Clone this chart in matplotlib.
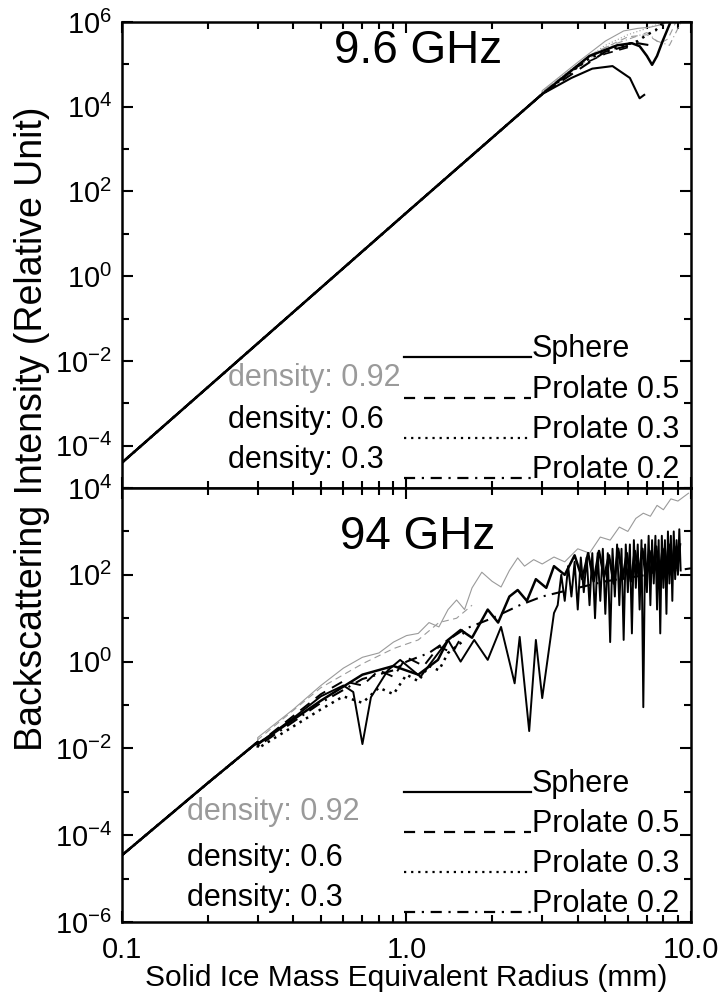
import numpy as np
import matplotlib
matplotlib.use("Agg")
import matplotlib.pyplot as plt
from matplotlib.ticker import FixedLocator, NullFormatter, FixedFormatter

plt.rcParams['font.family'] = ['Liberation Sans', 'DejaVu Sans']
plt.rcParams['mathtext.fontset'] = 'custom'
plt.rcParams['mathtext.rm'] = 'Liberation Sans'
plt.rcParams['mathtext.it'] = 'Liberation Sans'
plt.rcParams['mathtext.bf'] = 'Liberation Sans'

###############################################################################
# data (radius in mm, log10 of backscattering intensity)
shapes = ["Sphere", "Prolate 0.5", "Prolate 0.3", "Prolate 0.2"]
densities = ["density: 0.92", "density: 0.6", "density: 0.3"]

# 9.6 GHz, Rayleigh part shared by all curves
top_r_ray = [0.1, 1.0, 3.0]
top_i_ray = [-4.40, 1.50, 4.30]

# 9.6 GHz tails
top_r_g92_sph = [3.0, 4.0, 5.0, 5.8, 6.5, 7.2, 8.0, 8.6]
top_i_g92_sph = [4.38, 5.05, 5.55, 5.79, 5.85, 5.88, 5.95, 6.10]
top_r_g92_dot = [3.0, 4.0, 5.0, 6.0, 7.0, 8.0, 8.5]
top_i_g92_dot = [4.35, 5.00, 5.45, 5.70, 5.85, 6.00, 6.10]
top_r_g92_dash = [3.0, 4.5, 6.0, 7.0, 7.8, 8.3, 9.0]
top_i_g92_dash = [4.35, 5.25, 5.65, 5.70, 5.50, 5.60, 6.10]
top_r_g92_dd = [3.0, 5.0, 7.0, 7.6, 8.4, 9.4]
top_i_g92_dd = [4.35, 5.40, 5.75, 5.55, 5.45, 6.10]

top_r_b06_sph = [3.0, 4.4, 5.5, 6.2, 6.6, 7.0, 7.3, 7.6, 7.95, 8.6]
top_i_b06_sph = [4.30, 5.20, 5.45, 5.50, 5.43, 5.20, 4.99, 5.20, 5.55, 6.10]
top_r_b06_dot = [3.0, 4.4, 5.5, 6.5, 7.0, 7.5, 8.0]
top_i_b06_dot = [4.30, 5.15, 5.40, 5.55, 5.70, 5.80, 6.00]
top_r_b06_dash = [3.0, 5.0, 6.5, 7.2]
top_i_b06_dash = [4.30, 5.30, 5.50, 5.45]

top_r_b03_sph = [3.0, 3.8, 4.5, 5.3, 6.1, 6.6, 6.85]
top_i_b03_sph = [4.30, 4.68, 4.90, 4.96, 4.68, 4.20, 4.28]
top_r_b03_dash = [3.0, 4.0, 5.0, 6.0]
top_i_b03_dash = [4.28, 4.95, 5.25, 5.40]

# 94 GHz, Rayleigh part shared by all curves
bot_r_ray = [0.1, 0.2, 0.3]
bot_i_ray = [-4.46, -2.80, -1.85]

bot_r_g92_sph = [0.3, 0.4, 0.5, 0.6, 0.7, 0.8, 0.9, 1.0, 1.1, 1.2, 1.3, 1.4,
                 1.5, 1.6, 1.7, 1.84, 2.0, 2.15, 2.3, 2.46, 2.6, 2.8, 3.0,
                 3.3, 3.6, 4.0, 4.4, 4.8, 5.2, 5.6, 6.0, 6.4, 6.8, 7.2, 7.6,
                 8.0, 8.5, 9.0, 9.8]
bot_i_g92_sph = [-1.75, -1.10, -0.55, -0.15, 0.10, 0.20, 0.45, 0.60, 0.65,
                 0.90, 0.80, 1.20, 1.42, 1.20, 1.70, 2.06, 1.85, 1.72, 2.10,
                 2.39, 2.20, 2.35, 2.25, 2.41, 2.30, 2.60, 2.50, 2.87, 2.80,
                 3.10, 3.00, 3.30, 3.42, 3.35, 3.60, 3.50, 3.75, 3.70, 3.88]
bot_r_g92_dash = [0.3, 0.5, 0.7, 0.9, 1.1, 1.3, 1.5, 1.7]
bot_i_g92_dash = [-1.80, -0.60, -0.05, 0.30, 0.50, 0.90, 1.00, 1.30]

# deep-dipping solid curve
bot_r_b06_sph = [0.3, 0.4, 0.5, 0.6, 0.65, 0.7, 0.75, 0.86, 0.95, 1.12, 1.4,
                 1.55, 1.73, 1.93, 2.15, 2.4, 2.5, 2.7, 2.85, 3.0, 3.3,
                 3.4, 3.5, 3.6, 3.7, 3.8, 3.9, 4.0, 4.1, 4.2, 4.3, 4.4, 4.5,
                 4.6, 4.7, 4.8, 4.9, 5.0, 5.1, 5.2, 5.3, 5.4, 5.5, 5.6, 5.7,
                 5.8, 5.9, 6.0, 6.1, 6.2, 6.3, 6.4, 6.5, 6.6, 6.7, 6.8, 6.9,
                 7.0, 7.1, 7.2, 7.3, 7.4, 7.5, 7.6, 7.7, 7.8, 7.9, 8.0, 8.1,
                 8.2, 8.3, 8.4, 8.5, 8.6, 8.7, 8.8, 8.9, 9.0, 9.1, 9.2]
bot_i_b06_sph = [-1.90, -1.30, -0.80, -0.55, -0.70, -1.90, -0.82, -0.20,
                 0.04, -0.35, 0.50, 0.00, 0.50, 0.04, 0.80, -0.50, 0.57,
                 -1.60, 0.50, -0.84, 1.12,
                 1.30, 2.00, 1.40, 2.20, 1.50, 2.30, 1.20, 2.40, 1.60, 2.40,
                 1.30, 2.50, 1.00, 2.50, 1.40, 2.60, 1.10, 2.50, 0.45, 2.60,
                 1.50, 2.70, 1.30, 2.60, 0.50, 2.70, 1.60, 2.70, 0.65, 2.80,
                 1.70, 2.70, 1.20, 2.80, -1.05, 2.70, 1.60, 2.90, 1.30, 2.80,
                 1.80, 2.90, 1.20, 2.80, 0.65, 2.90, 1.70, 2.80, 1.10, 3.00,
                 1.80, 2.90, 1.40, 3.00, 1.90, 2.80, 2.00, 3.05, 2.10]

# wavy solid curve
bot_r_b03_sph = [0.3, 0.5, 0.7, 0.9, 1.1, 1.29, 1.4, 1.55, 1.7, 1.93, 2.1,
                 2.3, 2.46, 2.65, 2.85, 3.1, 3.3, 3.6, 3.9, 4.15, 4.35, 4.55,
                 4.75, 4.95, 5.15, 5.35, 5.55, 5.75, 5.95, 6.15, 6.35, 6.55,
                 6.75, 6.95, 7.15, 7.35, 7.55, 7.75, 7.95, 8.15, 8.35, 8.55,
                 8.75, 8.95, 9.15]
bot_i_b03_sph = [-1.90, -0.90, -0.30, -0.10, -0.30, 0.04, 0.50, 0.73, 0.55,
                 1.20, 0.90, 1.50, 1.65, 1.40, 1.90, 1.70, 2.20, 2.00, 2.45,
                 1.90, 2.50, 1.85, 2.55, 1.95, 2.45, 1.80, 2.60, 1.90, 2.50,
                 1.85, 2.55, 2.00, 2.60, 1.90, 2.55, 2.05, 2.65, 1.95, 2.60,
                 2.10, 2.70, 2.00, 2.65, 2.15, 2.70]

bot_r_b_dd = [0.3, 0.5, 0.7, 0.9, 1.0, 1.2, 1.4, 1.6, 2.0, 2.5, 3.0, 4.0, 5.0,
              7.0, 10.0]
bot_i_b_dd = [-1.95, -0.95, -0.40, -0.20, 0.00, 0.20, 0.50, 0.75, 1.00, 1.30,
              1.50, 1.70, 1.85, 2.00, 2.15]

bot_r_b_dot = [0.3, 0.5, 0.6, 0.7, 0.8, 0.9, 1.0, 1.1, 1.2, 1.3, 1.4, 1.6]
bot_i_b_dot = [-2.00, -1.10, -0.80, -0.95, -0.60, -0.75, -0.30, -0.45, -0.10,
               -0.20, 0.20, 0.50]

bot_r_b_dash = [0.3, 0.5, 0.6, 0.7, 0.8, 0.9, 1.0, 1.15, 1.3, 1.45, 1.6]
bot_i_b_dash = [-1.90, -0.75, -0.45, -0.55, -0.20, -0.35, 0.10, -0.10, 0.35,
                0.20, 0.70]

x_major = [0.1, 1.0, 10.0]
x_major_labels = ["0.1", "1.0", "10.0"]
x_minor = [0.2, 0.3, 0.4, 0.5, 0.6, 0.7, 0.8, 0.9,
           2.0, 3.0, 4.0, 5.0, 6.0, 7.0, 8.0, 9.0]

###############################################################################
# plotting
gray = '#9a9a9a'
styles = {'sph': '-', 'dash': (0, (6, 4)), 'dot': (0, (1, 2)),
          'dd': (0, (6, 3, 1, 3))}

fig = plt.figure(figsize=(7.22, 9.97), dpi=100)
ax_top = fig.add_axes([0.169, 0.5105, 0.788, 0.4674])
ax_bot = fig.add_axes([0.169, 0.0752, 0.788, 0.4353])


def draw(ax, r_ray, i_ray, r, i, ls, color, lw):
    rr = list(r_ray) + list(r)
    ii = list(i_ray) + list(i)
    ax.plot(rr, np.power(10.0, ii), linestyle=ls, color=color, lw=lw)


# top panel
draw(ax_top, top_r_ray, top_i_ray, top_r_g92_sph, top_i_g92_sph,
     styles['sph'], gray, 0.8)
draw(ax_top, top_r_ray, top_i_ray, top_r_g92_dot, top_i_g92_dot,
     styles['dot'], gray, 0.8)
draw(ax_top, top_r_ray, top_i_ray, top_r_g92_dash, top_i_g92_dash,
     styles['dash'], gray, 0.8)
draw(ax_top, top_r_ray, top_i_ray, top_r_g92_dd, top_i_g92_dd,
     styles['dd'], gray, 0.8)
draw(ax_top, top_r_ray, top_i_ray, top_r_b06_sph, top_i_b06_sph,
     styles['sph'], 'black', 1.8)
draw(ax_top, top_r_ray, top_i_ray, top_r_b06_dot, top_i_b06_dot,
     styles['dot'], 'black', 1.8)
draw(ax_top, top_r_ray, top_i_ray, top_r_b06_dash, top_i_b06_dash,
     styles['dash'], 'black', 1.5)
draw(ax_top, top_r_ray, top_i_ray, top_r_b03_sph, top_i_b03_sph,
     styles['sph'], 'black', 1.5)
draw(ax_top, top_r_ray, top_i_ray, top_r_b03_dash, top_i_b03_dash,
     styles['dash'], 'black', 1.2)

# bottom panel
draw(ax_bot, bot_r_ray, bot_i_ray, bot_r_g92_sph, bot_i_g92_sph,
     styles['sph'], gray, 0.8)
draw(ax_bot, bot_r_ray, bot_i_ray, bot_r_g92_dash, bot_i_g92_dash,
     styles['dash'], gray, 0.8)
draw(ax_bot, bot_r_ray, bot_i_ray, bot_r_b06_sph, bot_i_b06_sph,
     styles['sph'], 'black', 1.4)
draw(ax_bot, bot_r_ray, bot_i_ray, bot_r_b03_sph, bot_i_b03_sph,
     styles['sph'], 'black', 1.8)
draw(ax_bot, bot_r_ray, bot_i_ray, bot_r_b_dd, bot_i_b_dd,
     styles['dd'], 'black', 1.5)
draw(ax_bot, bot_r_ray, bot_i_ray, bot_r_b_dot, bot_i_b_dot,
     styles['dot'], 'black', 1.8)
draw(ax_bot, bot_r_ray, bot_i_ray, bot_r_b_dash, bot_i_b_dash,
     styles['dash'], 'black', 1.4)

panels = [(ax_top, -5, 6, "9.6 GHz", 0.985, range(-4, 7, 2)),
          (ax_bot, -6, 4, "94 GHz", 0.937, range(-6, 5, 2))]
for ax, lo, hi, title, ty, labelled in panels:
    ax.set_xscale('log')
    ax.set_yscale('log')
    ax.set_xlim(0.1, 10.0)
    ax.set_ylim(10.0 ** lo, 10.0 ** hi)
    major = [10.0 ** k for k in labelled]
    minor = [10.0 ** k for k in range(lo, hi + 1) if k not in labelled]
    ax.yaxis.set_major_locator(FixedLocator(major))
    ax.yaxis.set_major_formatter(FixedFormatter(
        ["10$^{%d}$" % k for k in labelled]))
    ax.yaxis.set_minor_locator(FixedLocator(minor))
    ax.yaxis.set_minor_formatter(NullFormatter())
    ax.xaxis.set_major_locator(FixedLocator(x_major))
    ax.xaxis.set_minor_locator(FixedLocator(x_minor))
    ax.xaxis.set_minor_formatter(NullFormatter())
    ax.tick_params(which='both', direction='in', top=True, right=True,
                   width=1.5, labelsize=21, pad=7)
    ax.tick_params(which='major', length=8)
    ax.tick_params(which='minor', length=5)
    for sp in ax.spines.values():
        sp.set_linewidth(1.8)
    ax.text(0.52, ty, title, transform=ax.transAxes, fontsize=33,
            ha='center', va='top')

ax_top.xaxis.set_major_formatter(NullFormatter())
ax_bot.xaxis.set_major_formatter(FixedFormatter(x_major_labels))
ax_bot.tick_params(axis='x', pad=10)

# legends drawn as text, the same for both panels
leg_rows = {ax_top: [0.282, 0.194, 0.108, 0.022],
            ax_bot: [0.300, 0.207, 0.115, 0.023]}
leg_styles = [styles['sph'], (0, (5, 4)), (0, (1, 2.2)), (0, (5, 3, 1, 3))]
dens_rows = {ax_top: (0.186, [0.218, 0.129, 0.043]),
             ax_bot: (0.114, [0.235, 0.129, 0.037])}
dens_colors = [gray, 'black', 'black']
for ax in (ax_top, ax_bot):
    for name, ls, yy in zip(shapes, leg_styles, leg_rows[ax]):
        ax.plot([0.496, 0.719], [yy, yy], transform=ax.transAxes,
                linestyle=ls, color='black', lw=1.6, clip_on=False)
        ax.text(0.72, yy, name, transform=ax.transAxes, fontsize=22,
                ha='left', va='baseline')
    x0, rows = dens_rows[ax]
    for name, c, yy in zip(densities, dens_colors, rows):
        ax.text(x0, yy, name, transform=ax.transAxes, fontsize=22,
                ha='left', va='baseline', color=c)

fig.text(0.563, 0.011, "Solid Ice Mass Equivalent Radius (mm)", fontsize=21.5,
         ha='center', va='baseline')
fig.text(0.044, 0.57, "Backscattering Intensity (Relative Unit)",
         fontsize=27, ha='center', va='center', rotation=90)

fig.savefig("out.png", dpi=100)
